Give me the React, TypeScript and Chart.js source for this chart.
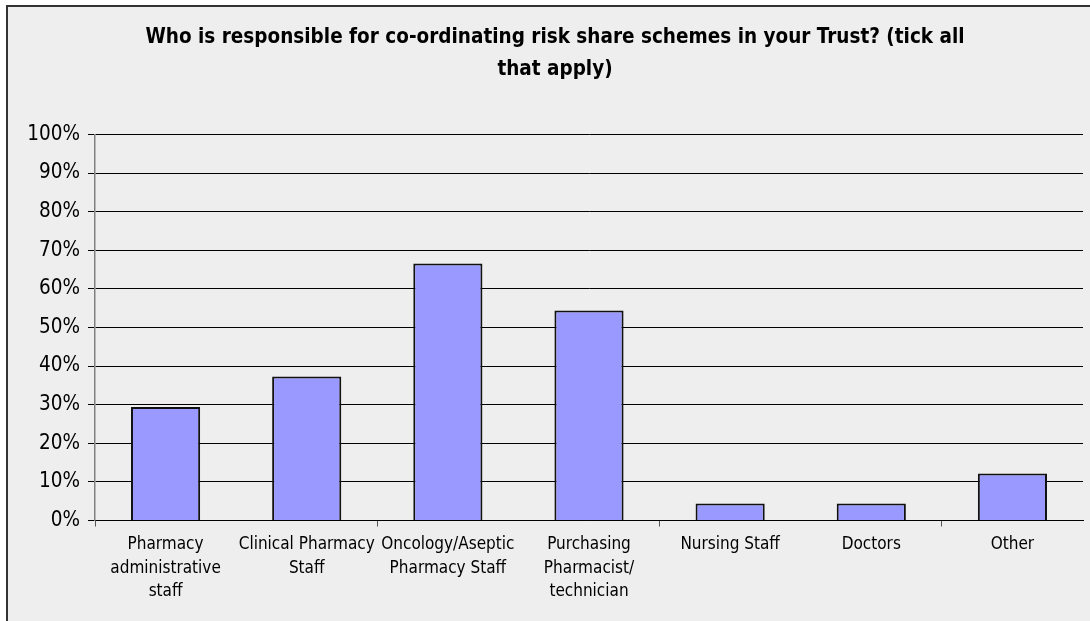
import React, { useEffect, useRef } from "react";
import { Chart, registerables } from "chart.js";

Chart.register(...registerables);

const titleLines = [
  "Who is responsible for co-ordinating risk share schemes in your Trust? (tick all",
  "that apply)",
];

const categories: string[][] = [
  ["Pharmacy", "administrative", "staff"],
  ["Clinical Pharmacy", "Staff"],
  ["Oncology/Aseptic", "Pharmacy Staff"],
  ["Purchasing", "Pharmacist/", "technician"],
  ["Nursing Staff"],
  ["Doctors"],
  ["Other"],
];

const shares = [29.4, 37.3, 66.6, 54.4, 4.4, 4.4, 12.2];

const FONT = '"DejaVu Sans Condensed", "DejaVu Sans", sans-serif';

// Paints the grey panel with its dark frame behind everything else.
const panelBackground = {
  id: "panelBackground",
  beforeDraw(chart: Chart) {
    const { ctx, width, height } = chart;
    ctx.save();
    ctx.fillStyle = "#ffffff";
    ctx.fillRect(0, 0, width, height);
    ctx.fillStyle = "#eeeeee";
    ctx.fillRect(7, 6, width - 7, height - 6);
    ctx.strokeStyle = "#333333";
    ctx.lineWidth = 2;
    ctx.beginPath();
    ctx.moveTo(7, height);
    ctx.lineTo(7, 6);
    ctx.lineTo(width, 6);
    ctx.stroke();
    ctx.restore();
  },
};

export default function App() {
  const canvasRef = useRef<HTMLCanvasElement | null>(null);

  useEffect(() => {
    if (!canvasRef.current) return;
    const chart = new Chart(canvasRef.current, {
      type: "bar",
      data: {
        labels: categories,
        datasets: [
          {
            data: shares,
            backgroundColor: "#9999ff",
            borderColor: "#111111",
            borderWidth: 2,
            borderSkipped: "start",
            barPercentage: 0.49,
            categoryPercentage: 1,
          },
        ],
      },
      options: {
        responsive: false,
        animation: false,
        layout: { padding: { left: 27, right: 7, top: 0, bottom: 0 } },
        plugins: {
          legend: { display: false },
          tooltip: { enabled: false },
          title: {
            display: true,
            text: titleLines,
            color: "#000000",
            font: { family: FONT, size: 20.5, weight: "bold", lineHeight: 1.56 },
            padding: { top: 22, bottom: 48.5 },
          },
        },
        scales: {
          x: {
            afterFit(scale: any) {
              scale.height = 100.5;
            },
            grid: {
              offset: true,
              drawOnChartArea: false,
              tickLength: 6,
              tickColor: (ctx: any) => (ctx.index % 2 === 0 ? "#555555" : "rgba(0,0,0,0)"),
            },
            border: { color: "#000000", width: 1 },
            ticks: {
              color: "#000000",
              font: { family: FONT, size: 17, lineHeight: 1.36 },
              maxRotation: 0,
              autoSkip: false,
              padding: 7,
            },
          },
          y: {
            min: 0,
            max: 100,
            afterFit(scale: any) {
              scale.width = 68;
            },
            grid: { color: "#000000", lineWidth: 1, tickLength: 7 },
            border: { color: "#808080", width: 1.5 },
            ticks: {
              stepSize: 10,
              color: "#000000",
              padding: 8,
              font: { family: FONT, size: 20.5 },
              callback: (v: any) => `${v}%`,
            },
          },
        },
      },
      plugins: [panelBackground],
    });
    return () => chart.destroy();
  }, []);

  return (
    <div style={{ position: "absolute", left: 0, top: 0, width: 1090, height: 621 }}>
      <canvas ref={canvasRef} width={1090} height={621} />
    </div>
  );
}
